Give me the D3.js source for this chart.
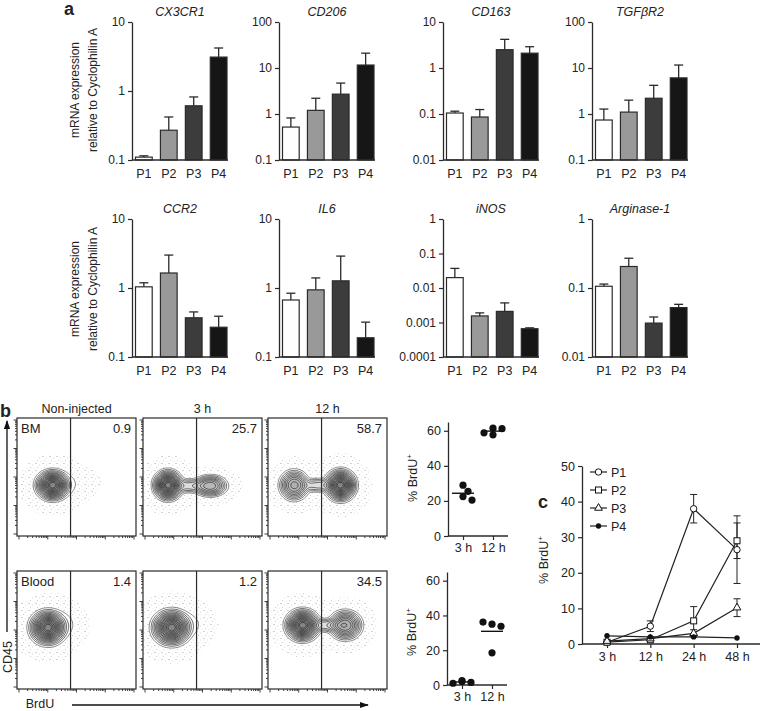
<!DOCTYPE html>
<html><head><meta charset="utf-8">
<script src="https://cdn.jsdelivr.net/npm/d3@7"></script>
<style>
body{margin:0;background:#fff}
svg{display:block}
text{font-family:"Liberation Sans",Arial,Helvetica,sans-serif;fill:#222}
</style>
</head><body>
<svg id="fig" width="760" height="711"></svg>
<script>
// ---------------- DATA ----------------
const populations = ["P1","P2","P3","P4"];
const genes = ["CX3CR1","CD206","CD163","TGFβR2","CCR2","IL6","iNOS","Arginase-1"];
const geneDomains = [[0.1,10],[0.1,100],[0.01,10],[0.1,100],[0.1,10],[0.1,10],[0.0001,1],[0.01,1]];
const geneMean = [
  [0.11,0.27,0.61,3.1],
  [0.52,1.2,2.7,11.6],
  [0.105,0.086,2.5,2.1],
  [0.74,1.1,2.2,6.1],
  [1.04,1.65,0.37,0.27],
  [0.67,0.94,1.27,0.19],
  [0.02,0.00155,0.0021,0.00066],
  [0.106,0.205,0.031,0.052]
];
const geneErrTop = [
  [0.115,0.42,0.82,4.2],
  [0.82,2.2,4.7,21],
  [0.115,0.125,4.2,2.9],
  [1.28,2.0,4.2,11.6],
  [1.19,3.0,0.45,0.39],
  [0.84,1.4,2.9,0.32],
  [0.037,0.0019,0.0037,0.0007],
  [0.114,0.27,0.038,0.058]
];
const barColors = ["#ffffff","#999999","#3c3c3c","#161616"];

// flow panels
const flowColumns = ["Non-injected","3 h","12 h"];
const flowRows = ["BM","Blood"];
const flowPercent = [["0.9","25.7","58.7"],["1.4","1.2","34.5"]];
// cell populations per plot: [relX, relY, sdX, sdY, weight]
const flowPops = [
  [ [[0.30,0.57,0.074,0.066,1],[0.56,0.55,0.12,0.09,0.035]],
    [[0.21,0.57,0.064,0.066,1],[0.565,0.575,0.076,0.048,0.55],[0.385,0.575,0.07,0.034,0.22]],
    [[0.22,0.57,0.066,0.068,0.6],[0.61,0.57,0.068,0.07,1],[0.42,0.57,0.08,0.034,0.22]] ],
  [ [[0.26,0.48,0.08,0.076,1],[0.43,0.44,0.1,0.08,0.035]],
    [[0.24,0.48,0.085,0.078,1],[0.46,0.44,0.11,0.08,0.035]],
    [[0.29,0.46,0.074,0.07,1],[0.65,0.46,0.074,0.066,0.65],[0.48,0.46,0.08,0.032,0.22]] ]
];

// scatter (% BrdU+)
const scatterTimes = ["3 h","12 h"];
const bmBrdU = [[29,25.5,22.5,20.5],[61.5,61.2,57.7,58.8]];
const bloodBrdU = [[2.5,1.5,1.0,2.0],[35,33.8,36.2,18.5]];

// panel c
const timeLabels = ["3 h","12 h","24 h","48 h"];
const cSeries = ["P1","P2","P3","P4"];
const cMarkers = ["circle","square","triangle","dot"];
const cMean = [[0.5,5,38,26.5],[0.5,1.2,6.5,29],[0.8,1.5,3,10.2],[2.3,2.0,2.0,1.7]];
const cErr = [[0.3,1.5,4,9.5],[0.3,0.5,4,5],[0.3,0.5,1,2.5],[0.3,0.3,0.3,0.2]];

// ---------------- DRAW ----------------
const svg = d3.select("#fig");
const ink = "#2a2a2a";

function styleAxis(g, fs){
  g.select(".domain").attr("stroke", ink).attr("stroke-width",1.3);
  g.selectAll(".tick line").attr("stroke", ink).attr("stroke-width",1.2);
  g.selectAll(".tick text").attr("font-size",fs||12).attr("fill","#222")
   .attr("font-family","Liberation Sans, Arial, sans-serif");
}

// ---- Panel a ----
svg.append("text").attr("x",64).attr("y",15).attr("font-size",18).attr("font-weight","bold").text("a");
const chartX = [132,279,443,592];
const rowTop = [22,219], rowBot = [160,357];
const fmtLog = v => String(v);

genes.forEach((gene,i)=>{
  const row = Math.floor(i/4), col = i%4;
  const x0 = chartX[col], yT = rowTop[row], yB = rowBot[row];
  const y = d3.scaleLog().domain(geneDomains[i]).range([yB,yT]);
  const x = d3.scaleBand().domain(populations).range([x0+3.5,x0+95]).paddingInner(0.33);
  const g = svg.append("g");
  const dec = [];
  for(let e=Math.round(Math.log10(geneDomains[i][0])); e<=Math.round(Math.log10(geneDomains[i][1])); e++) dec.push(+Math.pow(10,e).toPrecision(1));
  populations.forEach((p,j)=>{
    const cx = x(p)+x.bandwidth()/2;
    g.append("line").attr("x1",cx).attr("x2",cx).attr("y1",y(geneMean[i][j])).attr("y2",y(geneErrTop[i][j]))
      .attr("stroke",ink).attr("stroke-width",1.3);
    g.append("line").attr("x1",cx-4.5).attr("x2",cx+4.5).attr("y1",y(geneErrTop[i][j])).attr("y2",y(geneErrTop[i][j]))
      .attr("stroke",ink).attr("stroke-width",1.3);
  });
  g.selectAll("rect.bar").data(populations).join("rect").attr("class","bar")
    .attr("x",p=>x(p)).attr("width",x.bandwidth())
    .attr("y",(p,j)=>y(geneMean[i][j])).attr("height",(p,j)=>yB-y(geneMean[i][j]))
    .attr("fill",(p,j)=>barColors[j]).attr("stroke",ink).attr("stroke-width",1.2);
  const ax = g.append("g").attr("transform",`translate(${x0},0)`)
    .call(d3.axisLeft(y).tickValues(dec).tickFormat(fmtLog).tickSize(4).tickSizeOuter(0).tickPadding(3));
  styleAxis(ax,12);
  g.append("line").attr("x1",x0).attr("x2",x0+96).attr("y1",yB).attr("y2",yB).attr("stroke",ink).attr("stroke-width",1.3);
  g.selectAll("text.pl").data(populations).join("text").attr("class","pl")
    .attr("x",p=>x(p)+x.bandwidth()/2).attr("y",yB+18).attr("text-anchor","middle").attr("font-size",12.5).text(p=>p);
  g.append("text").attr("x",x0+48).attr("y",yT-6).attr("text-anchor","middle").attr("font-size",12.5)
    .attr("font-style","italic").text(gene);
});
[90,289].forEach(cy=>{
  svg.append("text").attr("transform",`translate(79,${cy}) rotate(-90)`).attr("text-anchor","middle").attr("font-size",12).text("mRNA expression");
  svg.append("text").attr("transform",`translate(97,${cy}) rotate(-90)`).attr("text-anchor","middle").attr("font-size",12).text("relative to Cyclophilin A");
});

// ---- Panel b: flow plots ----
svg.append("text").attr("x",0).attr("y",417).attr("font-size",18).attr("font-weight","bold").text("b");
const defs = svg.append("defs");
const pat = defs.append("pattern").attr("id","speck").attr("width",7).attr("height",7).attr("patternUnits","userSpaceOnUse");
pat.append("circle").attr("cx",1).attr("cy",1.5).attr("r",0.5).attr("fill","#888");
pat.append("circle").attr("cx",4.5).attr("cy",3).attr("r",0.45).attr("fill","#aaa");
pat.append("circle").attr("cx",2.5).attr("cy",5.5).attr("r",0.45).attr("fill","#999");
pat.append("circle").attr("cx",6).attr("cy",6.2).attr("r",0.4).attr("fill","#bbb");
const boxX = [17,143,268], boxW = 119, boxY = [418,571], boxH = 118;
flowColumns.forEach((t,c)=>{
  svg.append("text").attr("x",boxX[c]+boxW/2).attr("y",boxY[0]-5).attr("text-anchor","middle").attr("font-size",12.5).text(t);
});
const N = 110;
const thresholds = [0.04,0.08,0.13,0.19,0.26,0.33,0.41,0.49,0.57,0.65,0.73,0.8,0.87,0.93,0.97];
function field(pops, scale, power){
  const vals = new Float64Array(N*N); let mx = 0;
  for(let j=0;j<N;j++) for(let i=0;i<N;i++){
    const u=(i+0.5)/N, v=(j+0.5)/N; let s=0;
    pops.forEach(p=>{ const dx=(u-p[0])/(p[2]*scale), dy=(v-p[1])/(p[3]*scale);
      s+=p[4]*Math.exp(-Math.pow((dx*dx+dy*dy)/2,power)); });
    vals[j*N+i]=s; if(s>mx) mx=s;
  }
  return Array.from(vals, v=>v/mx);
}
flowRows.forEach((rname,r)=>{
  flowColumns.forEach((cname,c)=>{
    const bx = boxX[c], by = boxY[r];
    const g = svg.append("g");
    const pops = flowPops[r][c];
    const proj = d3.geoTransform({point:function(px,py){ this.stream.point(bx+px*boxW/N, by+py*boxH/N); }});
    const path = d3.geoPath(proj);
    const sp = d3.contours().size([N,N]).thresholds([0.025])(field(pops,1.45,1));
    g.selectAll("path.sp").data(sp).join("path").attr("class","sp").attr("d",path).attr("fill","url(#speck)");
    const conts = d3.contours().size([N,N]).thresholds(thresholds)(field(pops,1,1.3));
    g.selectAll("path.ct").data(conts).join("path").attr("class","ct").attr("d",path)
      .attr("fill",(d,k)=>k===0?"#fff":"#000").attr("fill-opacity",(d,k)=>k===0?1:0.045)
      .attr("stroke",(d,k)=>k===0?"#666":"#111")
      .attr("stroke-width",(d,k)=>k===0?0.8:0.6);
    g.append("rect").attr("x",bx).attr("y",by).attr("width",boxW).attr("height",boxH)
      .attr("fill","none").attr("stroke",ink).attr("stroke-width",1.2);
    const gx = bx + boxW*0.45;
    g.append("line").attr("x1",gx).attr("x2",gx).attr("y1",by).attr("y2",by+boxH).attr("stroke",ink).attr("stroke-width",1.2);
    const lx = d3.scaleLog().domain([10,1e5]).range([bx+2,bx+boxW-2]);
    const ly = d3.scaleLog().domain([10,1e5]).range([by+boxH-2,by+2]);
    lx.ticks().forEach(t=>{
      const major = Math.abs(Math.log10(t)-Math.round(Math.log10(t)))<1e-9;
      g.append("line").attr("x1",lx(t)).attr("x2",lx(t)).attr("y1",by+boxH).attr("y2",by+boxH+(major?3.5:2)).attr("stroke",ink).attr("stroke-width",0.9);
    });
    ly.ticks().forEach(t=>{
      const major = Math.abs(Math.log10(t)-Math.round(Math.log10(t)))<1e-9;
      g.append("line").attr("y1",ly(t)).attr("y2",ly(t)).attr("x1",bx).attr("x2",bx-(major?3.5:2)).attr("stroke",ink).attr("stroke-width",0.9);
    });
    g.append("text").attr("x",bx+boxW-5).attr("y",by+15).attr("text-anchor","end").attr("font-size",13).text(flowPercent[r][c]);
    if(c===0) g.append("text").attr("x",bx+4).attr("y",by+15).attr("font-size",13).text(rname);
  });
});
defs.append("marker").attr("id","arr").attr("viewBox","0 0 10 10").attr("refX",9).attr("refY",5)
  .attr("markerWidth",7).attr("markerHeight",7).attr("orient","auto")
  .append("path").attr("d","M0,1.5L10,5L0,8.5Z").attr("fill","#111");
svg.append("line").attr("x1",7).attr("x2",7).attr("y1",632).attr("y2",421).attr("stroke","#111").attr("stroke-width",1.3).attr("marker-end","url(#arr)");
svg.append("text").attr("transform","translate(12,657) rotate(-90)").attr("text-anchor","middle").attr("font-size",12.5).text("CD45");
svg.append("text").attr("x",40).attr("y",708).attr("text-anchor","middle").attr("font-size",12.5).text("BrdU");
svg.append("line").attr("x1",72).attr("x2",368).attr("y1",705).attr("y2",705).attr("stroke","#111").attr("stroke-width",1.3).attr("marker-end","url(#arr)");

// ---- scatter panels ----
function brdULabel(x,y){
  const t = svg.append("text").attr("transform",`translate(${x},${y}) rotate(-90)`).attr("text-anchor","middle").attr("font-size",12.5);
  t.append("tspan").text("% BrdU");
  t.append("tspan").attr("font-size",8).attr("dy",-5).text("+");
}
function scatter(data, ax0, yBottom, yTopAxis, labelY){
  const y = d3.scaleLinear().domain([0,65]).range([yBottom, yTopAxis]);
  const x = d3.scalePoint().domain(scatterTimes).range([ax0+15, ax0+45]);
  const g = svg.append("g");
  const a = g.append("g").attr("transform",`translate(${ax0},0)`).call(d3.axisLeft(y).tickValues([0,20,40,60]).tickSize(4).tickSizeOuter(0).tickPadding(3));
  styleAxis(a,12.5);
  const xa = g.append("g").attr("transform",`translate(0,${yBottom})`).call(d3.axisBottom(x).tickSize(4).tickSizeOuter(0).tickPadding(3));
  xa.select(".domain").attr("d",`M${ax0},0H${ax0+60}`);
  styleAxis(xa,12.5);
  const r = 3.6;
  scatterTimes.forEach((t,ti)=>{
    const placed = [];
    data[ti].forEach(v=>{
      const py = y(v); let off = 0;
      const steps=[0,5,-5,9,-9,12,-12];
      for(const s of steps){ if(placed.every(p=>Math.hypot(p[0]-s,p[1]-py)>=2*r-1)){off=s;break;} }
      placed.push([off,py]);
      g.append("circle").attr("cx",x(t)+off).attr("cy",py).attr("r",r).attr("fill","#111");
    });
    const m = d3.mean(data[ti]);
    g.append("line").attr("x1",x(t)-11).attr("x2",x(t)+11).attr("y1",y(m)).attr("y2",y(m)).attr("stroke","#111").attr("stroke-width",1.4);
  });
  brdULabel(ax0-31, labelY);
}
scatter(bmBrdU, 448, 536, 422, 478);
scatter(bloodBrdU, 447, 685, 572, 632);

// ---- Panel c ----
svg.append("text").attr("x",538).attr("y",508).attr("font-size",18).attr("font-weight","bold").text("c");
const cy = d3.scaleLinear().domain([0,50]).range([644,466]);
const cx = d3.scalePoint().domain(timeLabels).range([607,737]);
const cg = svg.append("g");
const cya = cg.append("g").attr("transform","translate(582,0)").call(d3.axisLeft(cy).tickValues([0,10,20,30,40,50]).tickSize(4).tickSizeOuter(0).tickPadding(3));
styleAxis(cya,12.5);
const cxa = cg.append("g").attr("transform","translate(0,644)").call(d3.axisBottom(cx).tickSize(4).tickSizeOuter(0).tickPadding(4));
cxa.select(".domain").attr("d","M582,0H760");
styleAxis(cxa,12.5);
brdULabel(548, 560);

function drawMarker(g, type, x, y){
  if(type==="circle") g.append("circle").attr("cx",x).attr("cy",y).attr("r",3.2).attr("fill","#fff").attr("stroke","#111").attr("stroke-width",1);
  else if(type==="square") g.append("rect").attr("x",x-3).attr("y",y-3).attr("width",6).attr("height",6).attr("fill","#fff").attr("stroke","#111").attr("stroke-width",1);
  else if(type==="triangle") g.append("path").attr("transform",`translate(${x},${y})`).attr("d",d3.symbol(d3.symbolTriangle).size(26)()).attr("fill","#fff").attr("stroke","#111").attr("stroke-width",1);
  else g.append("circle").attr("cx",x).attr("cy",y).attr("r",2.7).attr("fill","#111");
}
const line = d3.line().x((d,i)=>cx(timeLabels[i])).y(d=>cy(d));
cSeries.forEach((s,si)=>{
  cg.append("path").attr("d",line(cMean[si])).attr("fill","none").attr("stroke","#222").attr("stroke-width",1.2);
  cMean[si].forEach((m,ti)=>{
    const e = cErr[si][ti], px = cx(timeLabels[ti]);
    if(e>0.6){
      cg.append("line").attr("x1",px).attr("x2",px).attr("y1",cy(m-e)).attr("y2",cy(m+e)).attr("stroke","#222").attr("stroke-width",1);
      [m-e,m+e].forEach(v=>cg.append("line").attr("x1",px-3.5).attr("x2",px+3.5).attr("y1",cy(v)).attr("y2",cy(v)).attr("stroke","#222").attr("stroke-width",1));
    }
  });
});
cSeries.forEach((s,si)=>{
  cMean[si].forEach((m,ti)=>drawMarker(cg,cMarkers[si],cx(timeLabels[ti]),cy(m)));
});
const legY = [472,490,508,526];
cSeries.forEach((s,si)=>{
  cg.append("line").attr("x1",590).attr("x2",607).attr("y1",legY[si]).attr("y2",legY[si]).attr("stroke","#222").attr("stroke-width",1.2);
  drawMarker(cg,cMarkers[si],598.5,legY[si]);
  cg.append("text").attr("x",611).attr("y",legY[si]+4.5).attr("font-size",12.5).text(s);
});
</script>
</body></html>
